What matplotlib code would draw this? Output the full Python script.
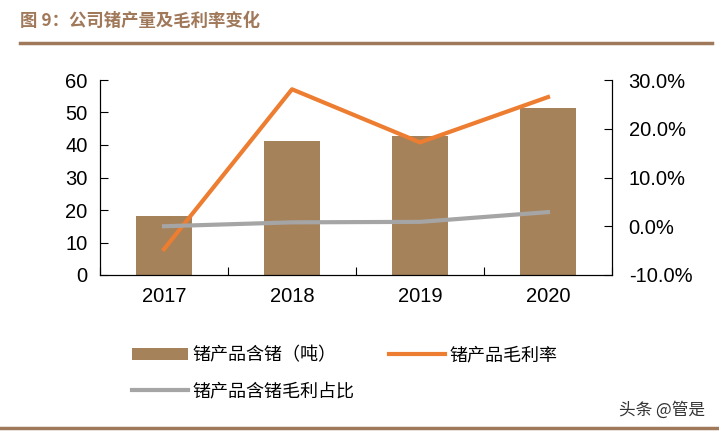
import matplotlib.pyplot as plt
import numpy as np
from matplotlib.lines import Line2D
from matplotlib.ticker import FuncFormatter

plt.rcParams['font.family'] = ['Liberation Sans', 'Noto Sans CJK SC', 'DejaVu Sans']

# ─── data ────────────────────────────────────────────────────────────────────
years = ['2017', '2018', '2019', '2020']
ge_tons = [18.2, 41.2, 42.8, 51.4]            # 锗产品含锗（吨）
gross_margin = [-4.7, 28.1, 17.2, 26.5]        # 锗产品毛利率 (%)
margin_share = [0.0, 0.8, 0.9, 2.9]            # 锗产品含锗毛利占比 (%)

BAR_C = '#A5825A'
ORANGE = '#ED7D31'
GRAY = '#A5A5A5'
BROWN = '#A0785A'
CJK = ['Noto Sans CJK SC', 'DejaVu Sans']

fig = plt.figure(figsize=(7.19, 4.33), dpi=100)
ax = fig.add_axes([100 / 719, 1 - 275 / 433, 512 / 719, 195 / 433])
ax2 = ax.twinx()

x = np.arange(len(years))
bars = ax.bar(x, ge_tons, width=0.44, color=BAR_C, zorder=1)
ln1, = ax2.plot(x, gross_margin, color=ORANGE, lw=3, zorder=3)
ln2, = ax2.plot(x, margin_share, color=GRAY, lw=3, zorder=3)
ax.set_zorder(ax2.get_zorder() - 1)
ax.patch.set_visible(False)

ax.set_xlim(-0.5, 3.5)
ax.set_ylim(0, 60)
ax.set_yticks(range(0, 61, 10))
ax2.set_ylim(-10, 30)
ax2.set_yticks(range(-10, 31, 10))
ax2.yaxis.set_major_formatter(FuncFormatter(lambda v, p: f'{v:.1f}%'))

ax.set_xticks(x)
ax.set_xticklabels(years)
ax.set_xticks(np.arange(-0.5, 4, 1), minor=True)
ax.tick_params(axis='x', which='major', length=0, pad=9, labelsize=14.5)
ax.tick_params(axis='x', which='minor', direction='in', length=6, width=0.8)
ax.tick_params(axis='y', direction='in', length=6, width=0.8, labelsize=14.5, pad=9)
ax2.tick_params(axis='y', direction='in', length=6, width=0.8, labelsize=14.5, pad=12)

for a in (ax, ax2):
    a.spines['top'].set_visible(False)
    for s in ('left', 'right', 'bottom'):
        a.spines[s].set_linewidth(0.8)

# title and rules
fig.text(20 / 719, 1 - 21 / 433, '图 9：公司锗产量及毛利率变化', fontsize=12.5,
         fontweight='bold', color=BROWN, va='center', ha='left', family=CJK)
fig.add_artist(Line2D([20 / 719, 712 / 719], [1 - 43 / 433] * 2, color=BROWN, lw=2.5))
fig.add_artist(Line2D([0, 1], [1 - 428 / 433] * 2, color=BROWN, lw=2.5))

leg = fig.legend([bars, ln2, ln1],
                 ['锗产品含锗（吨）', '锗产品含锗毛利占比', '锗产品毛利率'],
                 ncol=2, loc='upper left', bbox_to_anchor=(116 / 719, 1 - 330 / 433),
                 frameon=False, prop={'family': CJK, 'size': 13},
                 handlelength=3.1, handletextpad=0.25, columnspacing=1.9,
                 labelspacing=1.0)

fig.text(705 / 719, 1 - 410 / 433, '头条 @管是', fontsize=12, color='#333333',
         ha='right', va='center', family=CJK)

fig.savefig('out.png', dpi=100)
